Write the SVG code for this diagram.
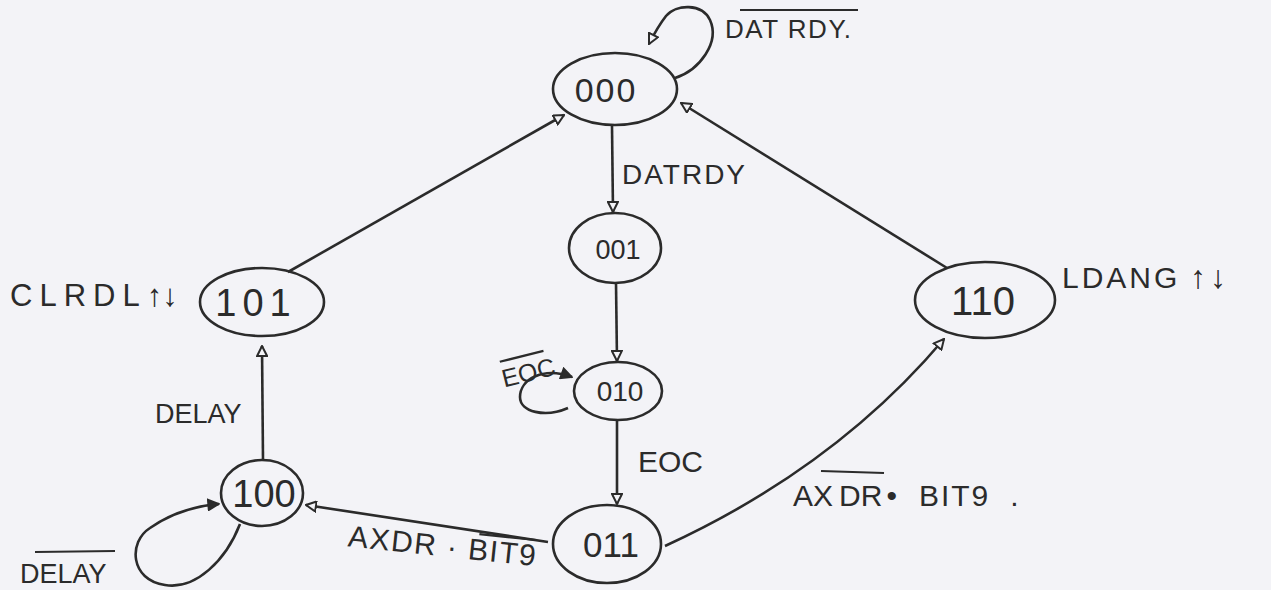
<svg xmlns="http://www.w3.org/2000/svg" width="1271" height="590" viewBox="0 0 1271 590">
  <style>
    .st { fill: none; stroke: #2b2b2b; stroke-width: 2.6; }
    .lbl { font-family: "Liberation Sans", "DejaVu Sans", sans-serif; fill: #2b2b2b; }
    .num { font-family: "Liberation Sans", "DejaVu Sans", sans-serif; fill: #2b2b2b; text-anchor: middle; }
    .bar { stroke: #2b2b2b; stroke-width: 2.2; }
  </style>
  <defs>
    <marker id="open" viewBox="0 0 12 12" refX="11" refY="6" markerWidth="12" markerHeight="12" markerUnits="userSpaceOnUse" orient="auto">
      <path d="M1,1 L11,6 L1,11 Z" fill="#f3f3f7" stroke="#2b2b2b" stroke-width="2"/>
    </marker>
    <marker id="solid" viewBox="0 0 12 12" refX="11" refY="6" markerWidth="13" markerHeight="13" markerUnits="userSpaceOnUse" orient="auto">
      <path d="M1,1 L11,6 L1,11 Z" fill="#2b2b2b" stroke="#2b2b2b" stroke-width="1.5"/>
    </marker>
  </defs>

  <rect width="1271" height="590" fill="#f3f3f7"/>

  <!-- connectors -->
  <g id="connectors">
    <!-- 000 self loop -->
    <path class="st" d="M675,78 C700,70 720,42 710,20 C702,3 676,4 666,16 C659,25 654,34 649,44" marker-end="url(#open)"/>
    <!-- 000 -> 001 -->
    <path class="st" d="M612,126 L613,212" marker-end="url(#open)"/>
    <!-- 001 -> 010 -->
    <path class="st" d="M616,283 L617,361" marker-end="url(#open)"/>
    <!-- 010 self loop -->
    <path class="st" d="M568,408 C545,418 520,412 520,397 C520,380 542,366 572,377" marker-end="url(#solid)"/>
    <!-- 010 -> 011 -->
    <path class="st" d="M617,421 L617,504" marker-end="url(#open)"/>
    <!-- 011 -> 100 -->
    <path class="st" d="M548,542 L306,505" marker-end="url(#open)"/>
    <!-- 011 -> 110 -->
    <path class="st" d="M665,546 Q835,468 944,339" marker-end="url(#open)"/>
    <!-- 110 -> 000 -->
    <path class="st" d="M947,268 L681,103" marker-end="url(#open)"/>
    <!-- 100 -> 101 -->
    <path class="st" d="M263,460 L262,346" marker-end="url(#open)"/>
    <!-- 100 self loop -->
    <path class="st" d="M240,524 C226,560 196,590 165,585 C130,580 128,542 150,528 C170,514 195,506 219,504" marker-end="url(#solid)"/>
    <!-- 101 -> 000 -->
    <path class="st" d="M288,272 L564,115" marker-end="url(#open)"/>
  </g>

  <!-- states -->
  <g id="s000">
    <ellipse class="st" cx="615" cy="89" rx="62" ry="36"/>
    <text class="num" x="606" y="102" font-size="34" letter-spacing="2">000</text>
  </g>
  <g id="s001">
    <ellipse class="st" cx="615" cy="248" rx="46" ry="35"/>
    <text class="num" x="618" y="259" font-size="27">001</text>
  </g>
  <g id="s010">
    <ellipse class="st" cx="618" cy="391" rx="44" ry="29"/>
    <text class="num" x="620" y="401" font-size="28">010</text>
  </g>
  <g id="s011">
    <ellipse class="st" cx="607" cy="544" rx="54" ry="39"/>
    <text class="num" x="611" y="557" font-size="35">011</text>
  </g>
  <g id="s110">
    <ellipse class="st" cx="985" cy="300" rx="70" ry="38"/>
    <text class="num" x="983" y="315" font-size="40">110</text>
  </g>
  <g id="s101">
    <ellipse class="st" cx="262" cy="302" rx="62" ry="34"/>
    <text class="num" x="256" y="316" font-size="38" letter-spacing="6">101</text>
  </g>
  <g id="s100">
    <ellipse class="st" cx="262" cy="493" rx="41" ry="33"/>
    <text class="num" x="264" y="507" font-size="38">100</text>
  </g>

  <!-- transition and output labels -->
  <g id="labels">
    <line class="bar" x1="740" y1="10" x2="858" y2="10"/>
    <text class="lbl" x="725" y="38" font-size="26" letter-spacing="1.5">DAT RDY.</text>

    <text class="lbl" x="622" y="184" font-size="28" letter-spacing="2">DATRDY</text>

    <g transform="rotate(-14 525 372)">
      <line class="bar" x1="503" y1="356" x2="548" y2="356"/>
      <text class="lbl" x="501" y="382" font-size="25">EOC</text>
    </g>

    <text class="lbl" x="638" y="472" font-size="30">EOC</text>

    <line class="bar" x1="821" y1="471" x2="884" y2="473"/>
    <text class="lbl" x="793" y="506" font-size="30">AX<tspan dx="6">DR</tspan><tspan dx="4">•</tspan><tspan dx="22" letter-spacing="2">BIT9</tspan><tspan dx="20">.</tspan></text>

    <text class="lbl" x="1062" y="288" font-size="30" letter-spacing="3">LDANG<tspan dx="10" font-size="32" letter-spacing="4">↑↓</tspan></text>

    <text class="lbl" x="10" y="306" font-size="31" letter-spacing="7">CLRDL<tspan letter-spacing="0">↑↓</tspan></text>

    <text class="lbl" x="155" y="423" font-size="27">DELAY</text>

    <line class="bar" x1="35" y1="552" x2="115" y2="551"/>
    <text class="lbl" x="20" y="583" font-size="27">DELAY</text>

    <g transform="rotate(6 440 545)">
      <line class="bar" x1="478" y1="530" x2="535" y2="530"/>
      <text class="lbl" x="348" y="556" font-size="30" letter-spacing="1.5">AXDR · BIT9</text>
    </g>
  </g>
</svg>
